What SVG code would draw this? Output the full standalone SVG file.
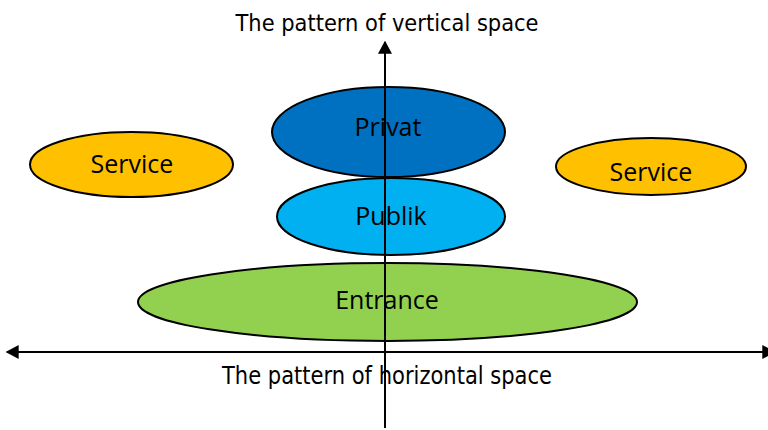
<svg xmlns="http://www.w3.org/2000/svg" width="768" height="430" viewBox="0 0 768 430">
<style>
.node ellipse{stroke:#000;stroke-width:2}
.lbl{font-family:"Open Sans","Noto Sans",sans-serif;font-size:25px;fill:#000;text-anchor:middle}
.ttl{font-family:"DejaVu Sans","Liberation Sans",sans-serif;font-size:23px;fill:#000;text-anchor:middle}
.axis{stroke:#000;stroke-width:2;fill:none}
</style>
<defs>
<marker id="ah" viewBox="0 0 10 10" refX="9" refY="5" markerWidth="13" markerHeight="14" markerUnits="userSpaceOnUse" orient="auto-start-reverse" preserveAspectRatio="none">
<path d="M0,0 L10,5 L0,10 z" fill="#000"/>
</marker>
</defs>
<rect width="768" height="430" fill="#fff"/>
<text class="ttl" x="387" y="31" textLength="303" lengthAdjust="spacingAndGlyphs">The pattern of vertical space</text>
<text class="ttl" x="387" y="384" style="font-size:24px" textLength="330" lengthAdjust="spacingAndGlyphs">The pattern of horizontal space</text>
<g id="service-left" class="node">
<ellipse cx="131.5" cy="164.5" rx="101.5" ry="32.5" fill="#FFC000"/>
<text class="lbl" x="132" y="173">Service</text>
</g>
<g id="service-right" class="node">
<ellipse cx="651" cy="166.5" rx="95" ry="28.5" fill="#FFC000"/>
<text class="lbl" x="651" y="181">Service</text>
</g>
<g id="privat" class="node">
<ellipse cx="388.5" cy="132" rx="116.5" ry="45" fill="#0070C0"/>
<text class="lbl" x="388" y="136">Privat</text>
</g>
<g id="publik" class="node">
<ellipse cx="391" cy="216.5" rx="114" ry="38.5" fill="#00B0F0"/>
<text class="lbl" x="391" y="225">Publik</text>
</g>
<g id="entrance" class="node">
<ellipse cx="387.5" cy="302" rx="249.5" ry="39" fill="#92D050"/>
<text class="lbl" x="387" y="309">Entrance</text>
</g>
<g id="connectors">
<line class="axis" x1="385" y1="428" x2="385" y2="42" marker-end="url(#ah)"/>
<line class="axis" x1="7" y1="352" x2="774" y2="352" marker-start="url(#ah)" marker-end="url(#ah)"/>
</g>
</svg>
